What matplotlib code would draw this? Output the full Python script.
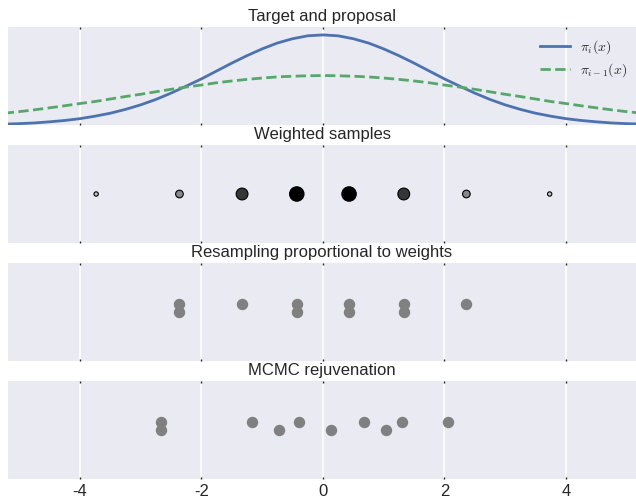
import numpy as np
import matplotlib.pyplot as plt
from matplotlib import colors

plt.rcParams["font.family"] = ["Liberation Sans", "DejaVu Sans"]
plt.rcParams["mathtext.fontset"] = "cm"
plt.rcParams["text.color"] = "#262626"
plt.rcParams["xtick.color"] = "#262626"
plt.rcParams["axes.unicode_minus"] = False

# densities (arbitrary units)
x_grid = np.linspace(-5.25, 5.25, 43)
target = [0.004, 0.006, 0.009, 0.014, 0.020, 0.028, 0.039, 0.052, 0.069, 0.089, 0.113,
          0.141, 0.172, 0.204, 0.239, 0.274, 0.307, 0.337, 0.363, 0.382, 0.395, 0.399,
          0.395, 0.382, 0.363, 0.337, 0.307, 0.274, 0.239, 0.204, 0.172, 0.141, 0.113,
          0.089, 0.069, 0.052, 0.039, 0.028, 0.020, 0.014, 0.009, 0.006, 0.004]
proposal = [0.052, 0.059, 0.067, 0.076, 0.085, 0.095, 0.104, 0.115, 0.126, 0.136, 0.147,
            0.158, 0.168, 0.177, 0.187, 0.195, 0.202, 0.208, 0.213, 0.216, 0.218, 0.219,
            0.218, 0.216, 0.213, 0.208, 0.202, 0.195, 0.187, 0.177, 0.168, 0.158, 0.147,
            0.136, 0.126, 0.115, 0.104, 0.095, 0.085, 0.076, 0.067, 0.059, 0.052]

# weighted particles
sample_x = [-3.73, -2.36, -1.33, -0.43, 0.43, 1.33, 2.36, 3.73]
weights = [0.09, 0.28, 0.67, 1.0, 1.0, 0.67, 0.28, 0.09]

# resampled particles (stack = copy row) and after MCMC moves
resampled_x = [-2.36, -2.36, -1.33, -0.43, -0.43, 0.43, 0.43, 1.33, 1.33, 2.36]
stack = [1, 0, 1, 1, 0, 1, 0, 1, 0, 1]
mcmc_x = [-2.66, -2.66, -1.16, -0.40, -0.73, 0.67, 0.14, 1.30, 1.04, 2.06]

titles = ["Target and proposal", "Weighted samples",
          "Resampling proportional to weights", "MCMC rejuvenation"]

fig = plt.figure(figsize=(6.36, 4.98), dpi=100)
W, H = 636, 498
axes = []
for i in range(4):
    top = 27 + 118 * i
    ax = fig.add_axes([8 / W, 1 - (top + 98) / H, 628 / W, 98 / H])
    ax.set_facecolor("#EAEAF2")
    for s in ax.spines.values():
        s.set_visible(False)
    ax.set_xlim(-5.18, 5.15)
    ax.set_xticks([-4, -2, 0, 2, 4])
    ax.grid(axis="x", color="white", linewidth=1.1)
    ax.set_axisbelow(True)
    ax.set_yticks([])
    ax.tick_params(axis="x", top=True, bottom=True, direction="in", length=1.5,
                   width=1, color="#262626", labelsize=12)
    if i < 3:
        ax.tick_params(labelbottom=False)
    ax.set_title(titles[i], fontsize=12, pad=4)
    axes.append(ax)

ax = axes[0]
ax.plot(x_grid, target, color="#4C72B0", lw=2, label=r"$\pi_i(x)$")
ax.plot(x_grid, proposal, color="#55A868", lw=2, ls="--", label=r"$\pi_{i-1}(x)$")
ax.set_ylim(0, 0.434)
ax.legend(loc="upper right", bbox_to_anchor=(1, 0.97), frameon=False, fontsize=10,
          handlelength=2.15, handletextpad=0.75, borderaxespad=0.2, labelspacing=0.38)

ax = axes[1]
w = np.array(weights)
ax.scatter(sample_x, np.zeros(len(sample_x)), s=108 * w, c=w, cmap="gray_r",
           norm=colors.PowerNorm(gamma=0.6, vmin=0, vmax=1),
           edgecolors="black", linewidths=0.8, zorder=3)
ax.set_ylim(-1, 1)

ax = axes[2]
ax.scatter(resampled_x, np.array(stack) * 0.17, s=52, color="#808080", zorder=3)
ax.set_ylim(-1, 1)

ax = axes[3]
ax.scatter(mcmc_x, np.array(stack) * 0.17, s=52, color="#808080", zorder=3)
ax.set_ylim(-1, 1)

plt.savefig("out.png", dpi=100)
